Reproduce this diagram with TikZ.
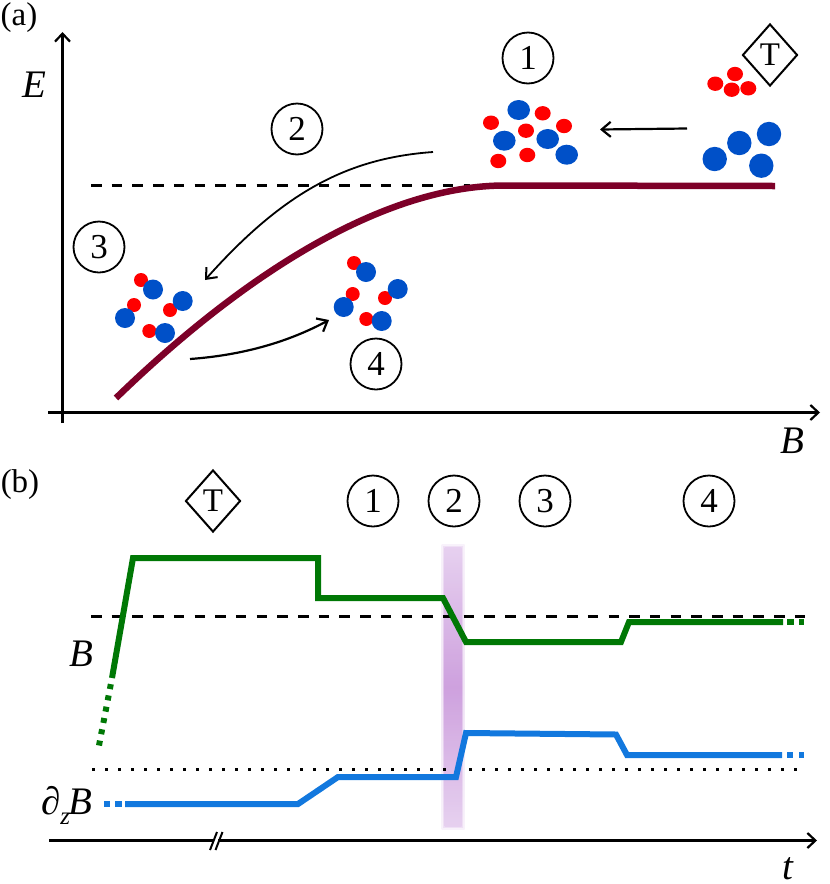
\documentclass[tikz,border=0pt]{standalone}
\usepackage{fontspec}
\setmainfont{Liberation Serif}
\usetikzlibrary{arrows.meta,shapes.geometric}
\definecolor{cmaroon}{RGB}{125,0,40}
\definecolor{cgreen}{RGB}{0,120,5}
\definecolor{cblue}{RGB}{18,120,222}
\definecolor{mblue}{RGB}{0,80,200}
\definecolor{mred}{RGB}{255,0,0}
\definecolor{bandend}{RGB}{228,204,238}
\definecolor{bandmid}{RGB}{200,150,218}
\newcommand{\rd}[2]{\fill[mred] (#1,#2) circle (7);}
\newcommand{\bl}[2]{\fill[mblue] (#1,#2) circle (10);}
\newcommand{\erd}[2]{\fill[mred] (#1,#2) ellipse (8 and 7.2);}
\newcommand{\ebl}[2]{\fill[mblue] (#1,#2) ellipse (11.3 and 10);}
\tikzset{
  x=1pt,y=-1pt,
  num/.style={draw,circle,line width=1.8pt,minimum size=51pt,inner sep=0pt,font=\fontsize{35}{35}\selectfont},
  dia/.style={draw,diamond,line width=2pt,minimum width=55pt,minimum height=62pt,inner sep=0pt,font=\fontsize{33}{33}\selectfont},
  panel/.style={inner sep=0pt,font=\fontsize{33}{33}\selectfont},
  axlabel/.style={inner sep=0pt,font=\fontsize{39}{39}\selectfont\itshape},
  axisline/.style={line width=2.2pt,-{Straight Barb[length=8pt,width=15pt,line width=2.2pt]}},
  curved/.style={line width=1.8pt,-{Straight Barb[length=9pt,width=15pt,line width=2pt]}},
  curvedb/.style={line width=2.2pt,-{Straight Barb[length=9pt,width=15pt,line width=2.2pt]}},
  refdash/.style={line width=2.2pt,dash pattern=on 10.5pt off 10.2pt},
  refdot/.style={line width=2.8pt,dash pattern=on 2.6pt off 10.4pt},
  gline/.style={cgreen,line width=6pt,miter limit=10},
  bline/.style={cblue,line width=6pt,miter limit=10},
}
\begin{document}
\begin{tikzpicture}
\path[use as bounding box] (0,0) rectangle (830,884);
% named end points
\coordinate (yb) at (62.5,423); \coordinate (yt) at (62.5,32);
\coordinate (xl) at (48,412.5); \coordinate (xr) at (820,412.5);
\coordinate (d1a) at (91,185.5); \coordinate (d1b) at (470,185.5);
\coordinate (a1s) at (687,128.5); \coordinate (a1e) at (600,129.5);
\coordinate (a2s) at (433,152); \coordinate (a2e) at (205,280);
\coordinate (a4s) at (190,359); \coordinate (a4e) at (329,320);
\coordinate (d2a) at (91,616.5); \coordinate (d2b) at (806,616.5);
\coordinate (d3a) at (92,769.5); \coordinate (d3b) at (806,769.5);
\coordinate (tl) at (49,840.5); \coordinate (tr) at (817,840.5);
% panel (a)
\draw[axisline] (yb) -- (yt);
\draw[axisline] (xl) -- (xr);
\draw[refdash] (d1a) -- (d1b);
\draw[cmaroon,line width=6.5pt,line cap=butt] (116,398) .. controls (246,272) and (385,185.5) .. (505,185.5) -- (775,186);
\draw[curved] (a2s) .. controls (350,158) and (285,190) .. (a2e);
\draw[curvedb] (a4s) .. controls (245,355) and (290,341) .. (a4e);
\draw[curvedb] (a1s) -- (a1e);
% cluster 3
\rd{141}{280}\bl{153}{289.5}\rd{134}{305}\bl{125}{318}\rd{170}{310}\bl{182.7}{301}\rd{149.3}{331}\bl{165}{333}
% cluster 4
\rd{354}{263}\bl{366}{272}\rd{352.7}{294}\bl{343.7}{307}\rd{385}{298}\bl{397.7}{289}\rd{366.3}{319}\bl{381.7}{321}
% cluster 1
\ebl{518.7}{110}\erd{542.7}{113.3}\erd{491}{122.7}\erd{564}{126}\erd{526}{130.7}\ebl{504.3}{140.7}\ebl{547.7}{139}\ebl{566.7}{154.7}\erd{527.3}{155}\erd{498.3}{161}
% cluster T
\erd{715.3}{83.7}\erd{735}{74}\erd{731.7}{89.7}\erd{748.3}{88.3}
\fill[mblue] (714.7,159) circle (12.2) (739.3,143) circle (12.2) (769,134) circle (12.2) (761.3,165.7) circle (12.2);
\node[panel] (pa) at (19,18) {(a)};
\node[axlabel] (lE) at (34,85) {E};
\node[axlabel] (lBa) at (792,441) {B};
\node[num] (a1) at (528,58) {1};
\node[num] (a2) at (297,129) {2};
\node[num] (a3) at (99,247) {3};
\node[num] (a4) at (376,364) {4};
\node[dia] (aT) at (770,55) {T};
% panel (b)
\shade[top color=bandend,bottom color=bandend,middle color=bandmid,opacity=.25] (441.5,544.5) rectangle (464.5,829);
\shade[top color=bandend,bottom color=bandend,middle color=bandmid,opacity=.45] (443,546) rectangle (463,827.5);
\shade[top color=bandend,bottom color=bandend,middle color=bandmid,opacity=.75] (444.5,547.5) rectangle (461.5,826);
\draw[refdash] (d2a) -- (d2b);
\draw[refdot] (d3a) -- (d3b);
\draw[gline] (112,678) -- (133,558) -- (318,558) -- (318,598) -- (443,598) -- (466,642) -- (621,642) -- (629,622) -- (783,622);
\draw[gline] (99,745.5) -- (112,678) [dash pattern=on 5pt off 6.5pt];
\draw[gline] (787,622) -- (794,622) (799,622) -- (804,622);
\draw[bline] (125,804) -- (298,804) -- (338,777) -- (456,777) -- (466,733) -- (616,734.5) -- (627,755) -- (782,755);
\draw[bline] (104,804) -- (110,804) (115,804) -- (122,804) (787,755) -- (793,755) (799,755) -- (804,755);
\draw[axisline] (tl) -- (tr);
\fill[white] (212.5,838.5) rectangle (217.5,842.5);
\draw[line width=2pt] (210,850) -- (217,832) (215.5,850) -- (222.5,832);
\node[panel] (pb) at (20,485) {(b)};
\node[axlabel] (lBb) at (81,654) {B};
\node[axlabel,anchor=east] (ldB) at (93,805) {∂\raisebox{-.26em}{\fontsize{25}{25}\selectfont z}\kern-.03em B};
\node[axlabel] (lt) at (788,869) {t};
\node[dia] (bT) at (213,501) {T};
\node[num] (b1) at (373,501) {1};
\node[num] (b2) at (454,501) {2};
\node[num] (b3) at (545,501) {3};
\node[num] (b4) at (709,501) {4};
\end{tikzpicture}
\end{document}
